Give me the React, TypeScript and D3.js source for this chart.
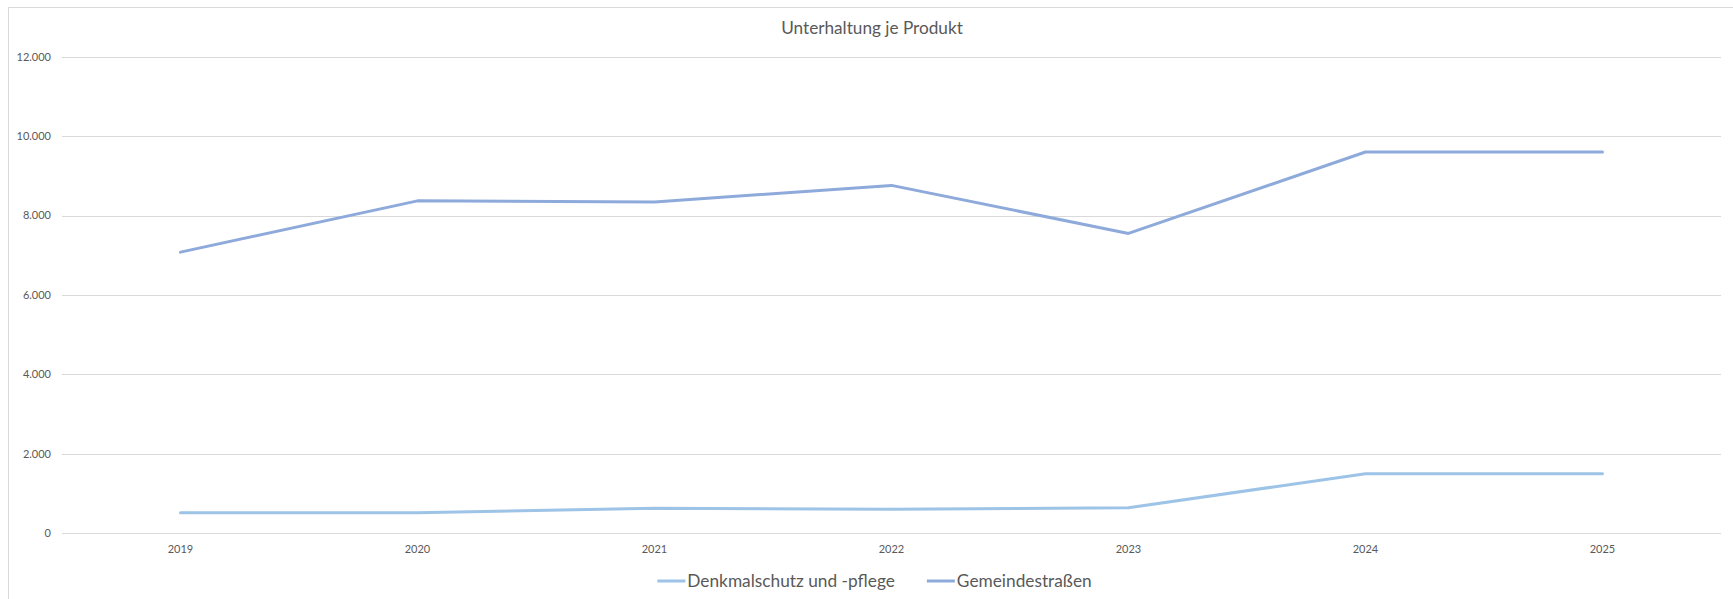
import { useEffect, useRef } from "react";
import * as d3 from "d3";

// Unterhaltung je Produkt – two line series, 2019–2025
const years = ["2019", "2020", "2021", "2022", "2023", "2024", "2025"];
const denkmalschutz = [520, 515, 630, 605, 645, 1500, 1500];
const gemeindestrassen = [7080, 8370, 8340, 8760, 7550, 9600, 9600];
const yTicks = [0, 2000, 4000, 6000, 8000, 10000, 12000];

const seriesNames = ["Denkmalschutz und -pflege", "Gemeindestraßen"];
const seriesColors = ["#9dc3e6", "#8eaadb"];

const W = 1733;
const H = 599;
const FONT = "Lato, 'Open Sans', sans-serif";
const TEXT = "#595959";

export default function App() {
    const svgRef = useRef<SVGSVGElement>(null);

    useEffect(() => {
        const svg = d3.select(svgRef.current);
        svg.selectAll("*").remove();

        // chart frame (right and bottom edges run off the picture)
        svg.append("rect")
            .attr("x", 8.5)
            .attr("y", 7.5)
            .attr("width", W + 20)
            .attr("height", H + 20)
            .attr("fill", "#fff")
            .attr("stroke", "#d9d9d9");

        svg.append("text")
            .attr("x", 872)
            .attr("y", 34)
            .attr("text-anchor", "middle")
            .attr("font-family", FONT)
            .attr("font-size", "17.2px")
            .attr("fill", TEXT)
            .text("Unterhaltung je Produkt");

        const x = d3.scaleBand().domain(years).range([62, 1721]);
        const y = d3.scaleLinear().domain([0, 12000]).range([533.3, 56.7]);
        const cx = (d: string) => (x(d) ?? 0) + x.bandwidth() / 2;

        // gridlines
        svg.append("g")
            .selectAll("line")
            .data(yTicks)
            .join("line")
            .attr("x1", 62)
            .attr("x2", 1721)
            .attr("y1", d => Math.round(y(d)) + 0.5)
            .attr("y2", d => Math.round(y(d)) + 0.5)
            .attr("stroke", "#d9d9d9")
            .attr("stroke-width", 1);

        const fmt = d3.formatLocale({ decimal: ",", thousands: ".", grouping: [3], currency: ["", "€"] }).format(",.0f");

        svg.append("g")
            .selectAll("text")
            .data(yTicks)
            .join("text")
            .attr("x", 51)
            .attr("y", d => y(d))
            .attr("dy", "0.35em")
            .attr("text-anchor", "end")
            .attr("font-family", FONT)
            .attr("font-size", "11px")
            .attr("fill", TEXT)
            .text(d => fmt(d));

        svg.append("g")
            .selectAll("text")
            .data(years)
            .join("text")
            .attr("x", d => cx(d))
            .attr("y", 549.5)
            .attr("dy", "0.35em")
            .attr("text-anchor", "middle")
            .attr("font-family", FONT)
            .attr("font-size", "11px")
            .attr("fill", TEXT)
            .text(d => d);

        const line = d3.line<number>()
            .x((_, i) => cx(years[i]))
            .y(d => y(d));

        [denkmalschutz, gemeindestrassen].forEach((vals, i) => {
            svg.append("path")
                .datum(vals)
                .attr("d", line)
                .attr("fill", "none")
                .attr("stroke", seriesColors[i])
                .attr("stroke-width", 3)
                .attr("stroke-linejoin", "round")
                .attr("stroke-linecap", "round");
        });

        // legend, centred under the plot
        const legend = svg.append("g");
        const items = legend.selectAll("g")
            .data(seriesNames)
            .join("g");
        items.append("line")
            .attr("x1", 0)
            .attr("x2", 28)
            .attr("y1", 0)
            .attr("y2", 0)
            .attr("stroke", (_, i) => seriesColors[i])
            .attr("stroke-width", 3);
        items.append("text")
            .attr("x", 30)
            .attr("y", 0)
            .attr("dy", "0.35em")
            .attr("font-family", FONT)
            .attr("font-size", "17.3px")
            .attr("fill", TEXT)
            .text(d => d);

        let offset = 0;
        items.each(function () {
            const g = d3.select(this);
            g.attr("transform", `translate(${offset},0)`);
            const w = (g.select("text").node() as SVGTextElement).getComputedTextLength();
            offset += 30 + w + 32;
        });
        const total = offset - 32;
        legend.attr("transform", `translate(${874.5 - total / 2},581)`);
    }, []);

    return (
        <svg
            ref={svgRef}
            width={W}
            height={H}
            style={{ position: "absolute", left: 0, top: 0, background: "#fff" }}
        />
    );
}
